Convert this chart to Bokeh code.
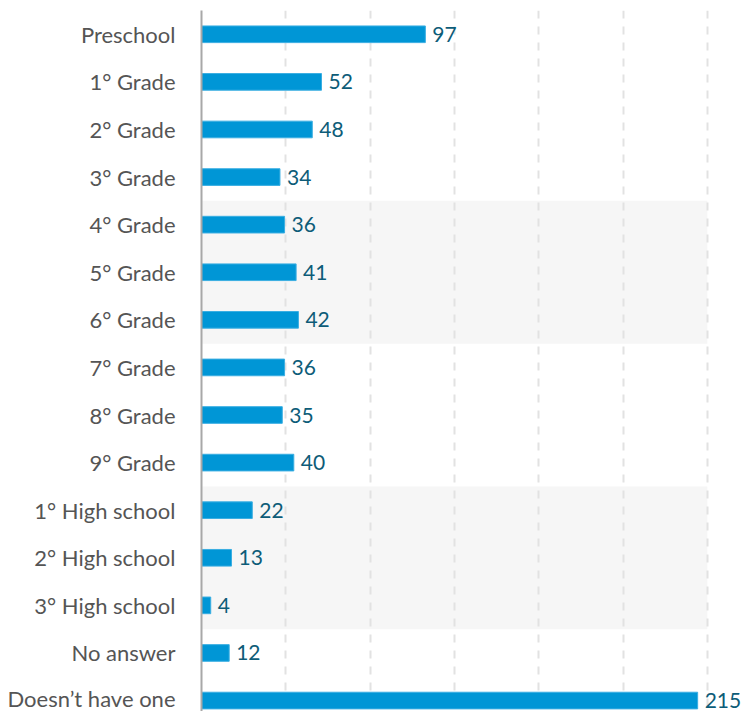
from bokeh.plotting import figure
from bokeh.models import Range1d, FixedTicker, ColumnDataSource
from bokeh.core.properties import value
from bokeh.embed import file_html
from bokeh.resources import INLINE

categories = ["Preschool", "1° Grade", "2° Grade", "3° Grade", "4° Grade", "5° Grade",
              "6° Grade", "7° Grade", "8° Grade", "9° Grade", "1° High school",
              "2° High school", "3° High school", "No answer", "Doesn’t have one"]
counts = [97, 52, 48, 34, 36, 41, 42, 36, 35, 40, 22, 13, 4, 12, 215]
shaded_groups = [("4° Grade", "6° Grade"), ("1° High school", "3° High school")]
x_axis_max = 219.2
grid_divisions = 6

FONT = "Lato"
BAR_COLOR = "#0096d6"
LABEL_COLOR = "#0d5c78"

idx = list(range(len(categories)))
src = ColumnDataSource(dict(y=idx, v=counts, t=[str(c) for c in counts], cat=categories))

p = figure(frame_width=546, frame_height=701, output_backend="svg", toolbar_location=None,
           x_range=Range1d(0, 236.6), y_range=Range1d(14.23, -0.5),
           min_border_left=201, min_border_right=0, min_border_top=10, min_border_bottom=0)
p.outline_line_color = None
p.background_fill_color = "white"

# shaded bands
for a, b in shaded_groups:
    i0, i1 = categories.index(a), categories.index(b)
    p.quad(left=0, right=x_axis_max, bottom=i1 + 0.5, top=i0 - 0.5,
           fill_color="#f6f6f6", line_color=None, level="underlay")

p.hbar(y="y", right="v", left=0, height=0.35, source=src,
       fill_color=BAR_COLOR, line_color="#3aaee2", line_width=1)
p.text(x="v", y="y", text="t", source=src, x_offset=7,
       text_font=value(FONT), text_font_size="21px", text_color=LABEL_COLOR,
       text_baseline="middle", text_align="left")

p.xaxis.visible = False
p.xgrid.ticker = FixedTicker(ticks=[x_axis_max * k / grid_divisions for k in range(1, grid_divisions + 1)])
p.xgrid.grid_line_color = "#e2e2e2"
p.xgrid.grid_line_dash = "8 8"
p.xgrid.grid_line_width = 2
p.ygrid.visible = False

ya = p.yaxis[0]
ya.ticker = FixedTicker(ticks=idx)
ya.major_label_overrides = {i: c for i, c in zip(idx, categories)}
ya.major_tick_line_color = None
ya.minor_tick_line_color = None
ya.major_tick_out = 0
ya.major_tick_in = 0
ya.major_label_standoff = 26
ya.axis_line_color = "#a8a8a8"
ya.axis_line_width = 2
ya.major_label_text_font = FONT
ya.major_label_text_font_size = "22px"
ya.major_label_text_color = "#555555"

open("out.html", "w").write(file_html(p, INLINE))
